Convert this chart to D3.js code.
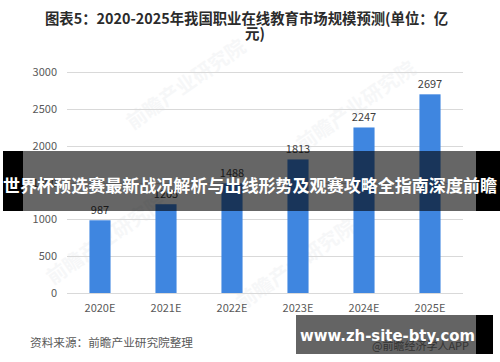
<html>
<head>
<meta charset="utf-8">
<script src="https://cdnjs.cloudflare.com/ajax/libs/d3/7.8.5/d3.min.js"></script>
<style>
  body { margin: 0; background: #fff; }
  svg { display: block; }
</style>
</head>
<body>
<svg id="chart" width="500" height="362"></svg>
<script>
  // data
  var years = ["2020E", "2021E", "2022E", "2023E", "2024E", "2025E"];
  var sizes = [987, 1205, 1488, 1813, 2247, 2697];
  var yTicks = [0, 500, 1000, 1500, 2000, 2500, 3000];
  var titleLines = ["图表5：2020-2025年我国职业在线教育市场规模预测(单位：亿", "元)"];
  var sourceText = "资料来源：前瞻产业研究院整理";
  var bannerText = "世界杯预选赛最新战况解析与出线形势及观赛攻略全指南深度前瞻";
  var siteText = "www.zh-site-bty.com";

  var svg = d3.select("#chart");
  var font = "'Noto Sans CJK SC', 'Noto Sans', sans-serif";

  var x = d3.scaleBand().domain(years).range([67, 463]).paddingInner(0.68).paddingOuter(0.34);
  var y = d3.scaleLinear().domain([0, 3000]).range([293, 72]);

  // faint watermarks
  var marks = [[190, 90], [360, 112], [110, 245], [300, 270]];
  svg.selectAll("text.wm")
    .data(marks)
    .enter()
    .append("text")
    .attr("class", "wm")
    .attr("transform", function(d) { return "translate(" + d[0] + "," + d[1] + ") rotate(-35)"; })
    .attr("text-anchor", "middle")
    .style("font-family", font)
    .style("font-size", "20px")
    .style("font-weight", "bold")
    .style("fill", "#9aa3ad")
    .style("opacity", 0.08)
    .text("前瞻产业研究院");

  // title
  svg.selectAll("text.title")
    .data(titleLines)
    .enter()
    .append("text")
    .attr("class", "title")
    .attr("x", function(d, i) { return i == 0 ? 45 : 245; })
    .attr("y", function(d, i) { return 24 + i * 15; })
    .attr("textLength", function(d, i) { return i == 0 ? 403 : null; })
    .attr("lengthAdjust", "spacingAndGlyphs")
    .style("font-family", font)
    .style("font-size", "14.5px")
    .style("font-weight", "bold")
    .style("fill", "#2b2b2b")
    .text(function(d) { return d; });

  // grid lines + y labels
  svg.selectAll("line.grid")
    .data(yTicks)
    .enter()
    .append("line")
    .attr("class", "grid")
    .attr("x1", 67).attr("x2", 463)
    .attr("y1", function(d) { return Math.round(y(d)) + 0.5; })
    .attr("y2", function(d) { return Math.round(y(d)) + 0.5; })
    .style("stroke", "#d9d9d9")
    .style("stroke-width", 1);

  svg.selectAll("text.ytick")
    .data(yTicks)
    .enter()
    .append("text")
    .attr("class", "ytick")
    .attr("x", 57)
    .attr("y", function(d) { return y(d) + 4; })
    .attr("text-anchor", "end")
    .style("font-family", font)
    .style("font-size", "11px")
    .style("fill", "#595959")
    .text(function(d) { return d; });

  // bars
  svg.selectAll("rect.bar")
    .data(sizes)
    .enter()
    .append("rect")
    .attr("class", "bar")
    .attr("x", function(d, i) { return x(years[i]); })
    .attr("width", x.bandwidth())
    .attr("y", function(d) { return y(d); })
    .attr("height", function(d) { return y(0) - y(d); })
    .style("fill", "#3f86e0");

  svg.selectAll("text.val")
    .data(sizes)
    .enter()
    .append("text")
    .attr("class", "val")
    .attr("x", function(d, i) { return x(years[i]) + x.bandwidth() / 2; })
    .attr("y", function(d) { return y(d) - 6; })
    .attr("text-anchor", "middle")
    .style("font-family", font)
    .style("font-size", "11px")
    .style("fill", "#404040")
    .text(function(d) { return d; });

  svg.selectAll("text.xtick")
    .data(years)
    .enter()
    .append("text")
    .attr("class", "xtick")
    .attr("x", function(d) { return x(d) + x.bandwidth() / 2; })
    .attr("y", 312)
    .attr("text-anchor", "middle")
    .style("font-family", font)
    .style("font-size", "11px")
    .style("fill", "#595959")
    .text(function(d) { return d; });

  // source
  svg.append("text")
    .attr("x", 30).attr("y", 347)
    .attr("textLength", 163)
    .attr("lengthAdjust", "spacingAndGlyphs")
    .style("font-family", font)
    .style("font-size", "11.5px")
    .style("fill", "#595959")
    .text(sourceText);

  // overlay banner
  svg.append("rect").attr("x", 3).attr("y", 151).attr("width", 20).attr("height", 60).style("fill", "#000");
  svg.append("rect").attr("x", 476).attr("y", 151).attr("width", 24).attr("height", 60).style("fill", "#000");
  svg.append("rect").attr("x", 23).attr("y", 151).attr("width", 453).attr("height", 60).style("fill", "rgba(0,0,0,0.6)");
  svg.append("text")
    .attr("x", 3).attr("y", 192)
    .attr("textLength", 494)
    .attr("lengthAdjust", "spacingAndGlyphs")
    .style("font-family", font)
    .style("font-size", "17.5px")
    .style("font-weight", "bold")
    .style("fill", "#fff")
    .text(bannerText);

  // bottom-right site box
  svg.append("rect").attr("x", 476).attr("y", 315).attr("width", 17).attr("height", 39).style("fill", "#000");
  svg.append("rect").attr("x", 296).attr("y", 315).attr("width", 180).attr("height", 39).style("fill", "#646464");
  svg.append("text")
    .attr("x", 372).attr("y", 350)
    .style("font-family", font)
    .style("font-size", "11px")
    .style("fill", "#333")
    .text("@前瞻经济学人APP");
  svg.append("text")
    .attr("x", 300).attr("y", 341)
    .attr("textLength", 175)
    .attr("lengthAdjust", "spacingAndGlyphs")
    .style("font-family", "'DejaVu Sans', sans-serif")
    .style("font-size", "16px")
    .style("font-weight", "bold")
    .style("fill", "#fff")
    .text(siteText);
</script>
</body>
</html>
